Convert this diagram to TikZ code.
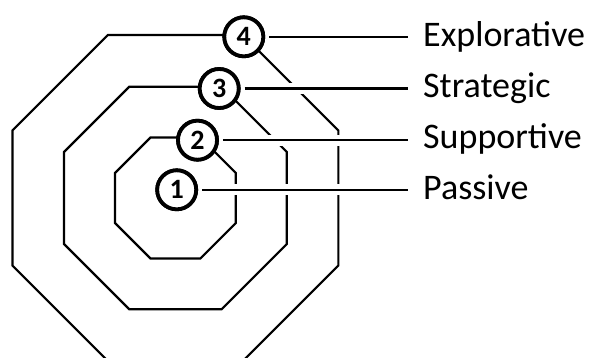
\documentclass[tikz,border=0pt]{standalone}
\usepackage{fontspec}
\setmainfont{Carlito}
\usetikzlibrary{calc}
\begin{document}
\begin{tikzpicture}[x=1pt,y=-1pt,
  ring/.style={line width=2.2pt, line join=miter},
  halo/.style={white, line width=11pt},
  conn/.style={line width=2.4pt},
  num/.style={circle, draw, fill=white, line width=3.8pt, minimum size=39pt,
    inner sep=0pt, font=\bfseries\fontsize{28}{28}\selectfont},
  lab/.style={anchor=base west, inner sep=0pt, font=\fontsize{36}{36}\selectfont}]
\useasboundingbox (0,0) rectangle (591,358);
\clip (0,0) rectangle (591,358);
\coordinate (c) at (175.4,198);
% three concentric regular octagons (circumradius R)
\foreach \R in {65.4,120.5,176.4}{
  \draw[ring] ($(c)+(22.5:\R)$)
    \foreach \k in {1,...,7}{ -- ($(c)+(22.5+45*\k:\R)$) } -- cycle;
}
% numbered markers
\node[num] (n1) at (176.7,189.8) {1};
\node[num] (n2) at (197.5,140.2) {2};
\node[num] (n3) at (219.2,88.5) {3};
\node[num] (n4) at (243.8,36.8) {4};
% labels
\node[lab] (l1) at (423,200) {Passive};
\node[lab] (l2) at (423,148.5) {Supportive};
\node[lab] (l3) at (423,97.5) {Strategic};
\node[lab] (l4) at (423,46.5) {Explorative};
% leader lines, cut through the rings by a white halo
\foreach \i in {1,...,4}{
  \draw[halo, shorten <=6pt, shorten >=15pt] (n\i.east) -- (n\i.east -| l\i.west);
  \draw[conn, shorten <=4pt, shorten >=15pt] (n\i.east) -- (n\i.east -| l\i.west);
  \node[num] at (n\i) {\i};
}
\end{tikzpicture}
\end{document}
